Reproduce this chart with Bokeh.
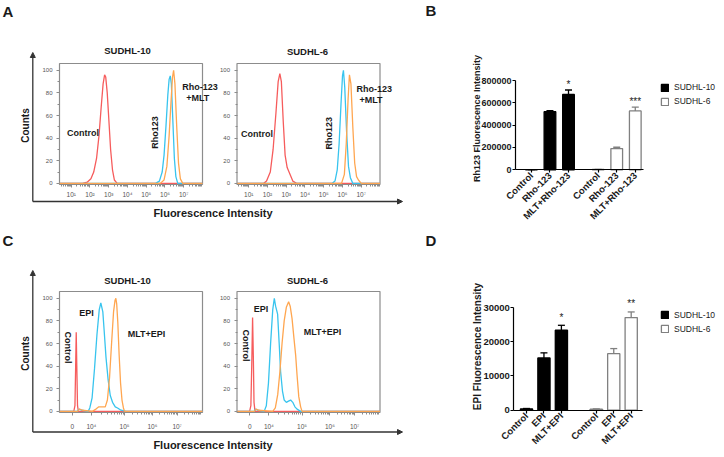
import numpy as np
from bokeh.plotting import figure
from bokeh.models import (Range1d, FixedTicker, LinearAxis, Arrow, NormalHead, Legend,
                          LegendItem, BasicTickFormatter)
from bokeh.core.properties import value
from bokeh.embed import file_html
from bokeh.resources import INLINE

FONT = "Liberation Sans"
INK = "#1a1a1a"
AXC = "#333333"
RED, BLUE, ORANGE = "#f65c5c", "#38c4ee", "#ffa650"
FRAME_GRAY = "#8c8c8c"
W, H = 720, 452

# ------------------------------------------------------------------ data
cell_lines = ["SUDHL-10", "SUDHL-6"]

# Panel A histograms: x = log10(fluorescence intensity), y = counts (% of max)
a_decades = [1, 2, 3, 4, 5, 6, 7]
a_decade_labels = ["10¹", "10²", "10³", "10⁴", "10⁵", "10⁶", "10⁷"]

a10_control_x = [0.375, 1.6, 1.85, 2.05, 2.2, 2.35, 2.48, 2.6, 2.7, 2.78, 2.84, 2.92, 3.0, 3.1, 3.2, 3.3, 3.45, 8.0]
a10_control_y = [0, 0, 1, 4, 10, 22, 42, 68, 88, 96, 94, 80, 58, 30, 12, 3, 0, 0]
a10_rho_x = [0.375, 5.5, 5.7, 5.85, 5.95, 6.05, 6.15, 6.22, 6.28, 6.34, 6.42, 6.5, 6.58, 6.68, 8.0]
a10_rho_y = [0, 0, 2, 10, 25, 50, 78, 92, 95, 88, 55, 22, 6, 0, 0]
a10_mlt_x = [0.375, 5.75, 5.95, 6.1, 6.22, 6.32, 6.4, 6.46, 6.53, 6.62, 6.72, 6.82, 6.95, 8.0]
a10_mlt_y = [0, 0, 3, 15, 42, 72, 94, 100, 88, 52, 18, 4, 0, 0]

a6_control_x = [0.375, 1.8, 1.95, 2.15, 2.3, 2.45, 2.57, 2.66, 2.74, 2.84, 2.94, 3.05, 3.2, 3.35, 3.55, 8.0]
a6_control_y = [0, 0, 2, 10, 30, 62, 90, 97, 90, 55, 25, 14, 8, 2, 0, 0]
a6_rho_x = [0.375, 5.45, 5.6, 5.72, 5.82, 5.92, 6.0, 6.05, 6.12, 6.22, 6.32, 6.42, 6.55, 8.0]
a6_rho_y = [0, 0, 2, 12, 35, 70, 95, 100, 85, 45, 15, 5, 0, 0]
a6_mlt_x = [0.375, 5.95, 6.1, 6.2, 6.3, 6.37, 6.45, 6.55, 6.65, 6.75, 6.85, 7.0, 8.0]
a6_mlt_y = [0, 0, 8, 35, 75, 96, 88, 50, 18, 6, 3, 0, 0]

# Panel C histograms: x = biexponential display position (0-1000), y = counts
c_tick_pos = [90, 223, 455, 650, 823]
c_tick_labels = ["0", "10⁴", "10⁵", "10⁶", "10⁷"]

c10_control_x = [0, 100, 108, 113, 117, 121, 126, 132, 1000]
c10_control_y = [0, 0, 5, 40, 70, 40, 5, 0, 0]
c10_epi_x = [0, 125, 138, 155, 200, 212, 228, 245, 262, 278, 289, 296, 303, 312, 325, 340, 355, 371, 390, 406, 430, 465, 1000]
c10_epi_y = [0, 0, 2, 1, 0, 3, 12, 38, 68, 90, 96, 92, 88, 72, 48, 28, 14, 8, 4, 3, 1, 0, 0]
c10_mlt_x = [0, 125, 140, 160, 230, 255, 275, 300, 320, 335, 350, 365, 378, 388, 394, 400, 408, 417, 427, 437, 447, 455, 1000]
c10_mlt_y = [0, 0, 2, 1, 0, 2, 4, 4, 4, 10, 30, 62, 88, 98, 100, 95, 78, 50, 25, 10, 3, 0, 0]

c6_control_x = [0, 88, 97, 103, 109, 114, 119, 126, 1000]
c6_control_y = [0, 0, 5, 40, 83, 50, 8, 0, 0]
c6_epi_x = [0, 120, 130, 145, 190, 205, 220, 235, 250, 261, 270, 284, 295, 305, 318, 330, 345, 360, 375, 390, 405, 420, 445, 1000]
c6_epi_y = [0, 0, 2, 1, 0, 5, 25, 60, 90, 100, 93, 86, 60, 35, 18, 10, 8, 9, 10, 8, 4, 2, 0, 0]
c6_mlt_x = [0, 120, 135, 150, 250, 268, 285, 300, 315, 330, 345, 361, 372, 385, 398, 410, 420, 432, 445, 455, 1000]
c6_mlt_y = [0, 0, 2, 1, 0, 3, 15, 35, 60, 80, 92, 97, 93, 82, 65, 50, 32, 13, 4, 0, 0]

# Panel B bars (Rh123 fluorescence intensity)
b_conditions = ["Control", "Rho-123", "MLT+Rho-123"]
b_sudhl10 = [1500, 520000, 675000]
b_sudhl10_err = [500, 10000, 40000]
b_sudhl6 = [3500, 190000, 527000]
b_sudhl6_err = [1000, 12000, 35000]
b_sig_sudhl10 = ["", "", "*"]
b_sig_sudhl6 = ["", "", "***"]
b_ticks = [0, 200000, 400000, 600000, 800000]

# Panel D bars (EPI fluorescence intensity)
d_conditions = ["Control", "EPI", "MLT+EPI"]
d_sudhl10 = [380, 15250, 23350]
d_sudhl10_err = [120, 1500, 1450]
d_sudhl6 = [280, 16500, 27050]
d_sudhl6_err = [100, 1500, 1650]
d_sig_sudhl10 = ["", "", "*"]
d_sig_sudhl6 = ["", "", "**"]
d_ticks = [0, 10000, 20000, 30000]


# ------------------------------------------------------------------ layout helpers
def Y(y_px):
    return H - y_px


def x_range_for(px0, px1, d0, d1):
    s = (px1 - px0) / (d1 - d0)
    return Range1d(d0 - px0 / s, d0 + (W - px0) / s)


def y_range_for(py_top, py_bottom, c_bottom, c_top):
    t = (py_bottom - py_top) / (c_top - c_bottom)
    return Range1d(c_bottom - (H - py_bottom) / t, c_top + py_top / t)


SLOT = 5  # x units per bar slot in the bar panels

# geometry of the sub-plots, in page pixels
HIST_Y = (-1, 106)
boxes = {
    "a1": (59, 202, 63, 184), "a2": (236.5, 379.5, 63, 184),
    "c1": (59, 202, 291, 412), "c2": (236.5, 379.5, 291, 412),
}
hist_x_domain = {"a1": (0.375, 8.0), "a2": (0.375, 8.0), "c1": (0, 1000), "c2": (0, 1000)}
# bar panels: first bar centre px, slot px, group gap (units), zero-line px, px per value, axis extent px
bar_geo = {
    "b": dict(x0=530.9, slot=18.55, gap=3, y0=169.3, k=89.3 / 800000, ax0=515, ax1=643),
    "d": dict(x0=526.0, slot=17.45, gap=5, y0=409.7, k=102.7 / 30000, ax0=513.3, ax1=642),
}

xr, yr = {}, {}
for name, (bx0, bx1, by0, by1) in boxes.items():
    d0, d1 = hist_x_domain[name]
    xr[name + "x"] = x_range_for(bx0, bx1, d0, d1)
    yr[name + "y"] = y_range_for(by0, by1, HIST_Y[0], HIST_Y[1])
for name, g in bar_geo.items():
    unit = g["slot"] / SLOT
    xr[name + "x"] = Range1d((0 - g["x0"]) / unit, (W - g["x0"]) / unit)
    yr[name + "y"] = Range1d((g["y0"] - H) / g["k"], g["y0"] / g["k"])

p = figure(width=W, height=H, x_range=(0, W), y_range=(0, H), output_backend="svg",
           toolbar_location=None, min_border=0, x_axis_location=None, y_axis_location=None)
p.title.visible = False
p.grid.visible = False
p.outline_line_color = None
p.background_fill_color = "white"
p.border_fill_color = "white"
p.extra_x_ranges = xr
p.extra_y_ranges = yr


def txt(x, y, s, size="9px", angle=0.0, align="center", style="bold", color=INK):
    p.text(x=[x], y=[Y(y)], text=[s], angle=angle, text_font=value(FONT),
           text_font_size=value(size), text_font_style=style, text_align=align,
           text_baseline="middle", text_color=color)


def arrow(x0, y0, x1, y1):
    p.add_layout(Arrow(end=NormalHead(size=5, fill_color=AXC, line_color=AXC, line_width=1),
                       x_start=x0, y_start=Y(y0), x_end=x1, y_end=Y(y1),
                       line_color=AXC, line_width=1.3))


def histogram(name, curves, ticks, labels, minor, x_standoff):
    xn, yn = name + "x", name + "y"
    d0, d1 = hist_x_domain[name]
    p.quad(left=[d0], right=[d1], bottom=[HIST_Y[0]], top=[HIST_Y[1]], fill_color=None,
           line_color=FRAME_GRAY, line_width=1.2, x_range_name=xn, y_range_name=yn)
    for xs, ys, col in curves:
        p.line(xs, ys, line_color=col, line_width=1.3, x_range_name=xn, y_range_name=yn)
    xa = LinearAxis(x_range_name=xn, y_range_name=yn, fixed_location=HIST_Y[0], bounds=(d0, d1),
                    ticker=FixedTicker(ticks=ticks, minor_ticks=minor),
                    major_label_overrides={t: s for t, s in zip(ticks, labels)})
    ya = LinearAxis(x_range_name=xn, y_range_name=yn, fixed_location=d0, bounds=HIST_Y,
                    ticker=FixedTicker(ticks=[0, 20, 40, 60, 80, 100], minor_ticks=[10, 30, 50, 70, 90]))
    for ax, standoff, size in ((xa, x_standoff, "6.5px"), (ya, 4, "6px")):
        ax.axis_line_color = None
        ax.major_tick_line_color = FRAME_GRAY
        ax.minor_tick_line_color = FRAME_GRAY
        ax.major_tick_out = 3
        ax.major_tick_in = 0
        ax.minor_tick_out = 2
        ax.minor_tick_in = 0
        ax.major_label_text_font = FONT
        ax.major_label_text_font_size = size
        ax.major_label_text_color = "#555555"
        ax.major_label_standoff = standoff
    p.add_layout(xa, "below")
    p.add_layout(ya, "left")


def bar_panel(name, conditions, v10, e10, v6, e6, s10, s6, ticks, xtick_size, ytick_size,
              bar_w, star_off, legend_top):
    g = bar_geo[name]
    xn, yn = name + "x", name + "y"
    unit = g["slot"] / SLOT
    pos_all, lab_all, rends = [], [], []
    for gi, (vals, errs, sig, fill, edge) in enumerate(((v10, e10, s10, "black", "black"),
                                                        (v6, e6, s6, "white", "#808080"))):
        pos = [gi * (3 * SLOT + g["gap"]) + ci * SLOT for ci in range(len(conditions))]
        upper = [v + e for v, e in zip(vals, errs)]
        pos_all += pos
        lab_all += conditions
        r = p.vbar(x=pos, top=vals, bottom=0, width=bar_w * SLOT, fill_color=fill, line_color=edge,
                   line_width=1.3, x_range_name=xn, y_range_name=yn)
        p.segment(x0=pos, y0=vals, x1=pos, y1=upper, line_color=edge, line_width=1.3,
                  x_range_name=xn, y_range_name=yn)
        p.scatter(x=pos, y=upper, marker="dash", size=7, line_color=edge, line_width=1.3,
                  x_range_name=xn, y_range_name=yn)
        sx = [x for x, s in zip(pos, sig) if s]
        sy = [u for u, s in zip(upper, sig) if s]
        st = [s for s in sig if s]
        p.text(x=sx, y=sy, text=st, y_offset=star_off, text_font=value(FONT),
               text_font_size=value("10px"), text_align="center", text_baseline="middle",
               text_color=INK, x_range_name=xn, y_range_name=yn)
        rends.append(r)
    b0 = (g["ax0"] - g["x0"]) / unit
    b1 = (g["ax1"] - g["x0"]) / unit
    xa = LinearAxis(x_range_name=xn, y_range_name=yn, fixed_location=0, bounds=(b0, b1),
                    ticker=FixedTicker(ticks=pos_all, minor_ticks=[]),
                    major_label_overrides={t: s for t, s in zip(pos_all, lab_all)})
    ya = LinearAxis(x_range_name=xn, y_range_name=yn, fixed_location=b0, bounds=(0, ticks[-1]),
                    ticker=FixedTicker(ticks=ticks, minor_ticks=[]),
                    formatter=BasicTickFormatter(use_scientific=False))
    for ax, size in ((xa, xtick_size), (ya, ytick_size)):
        ax.axis_line_color = "black"
        ax.axis_line_width = 1.2
        ax.major_tick_line_color = "black"
        ax.major_tick_line_width = 1.2
        ax.major_tick_out = 3
        ax.major_tick_in = 0
        ax.minor_tick_line_color = None
        ax.major_label_text_font = FONT
        ax.major_label_text_font_style = "bold"
        ax.major_label_text_font_size = size
        ax.major_label_text_color = INK
        ax.major_label_standoff = 1
    xa.major_label_orientation = np.pi / 4
    p.add_layout(xa, "below")
    p.add_layout(ya, "left")
    leg_h = 23
    legend = Legend(items=[LegendItem(label=cell_lines[0], renderers=[rends[0]]),
                           LegendItem(label=cell_lines[1], renderers=[rends[1]])],
                    location=(660, Y(legend_top + leg_h)), glyph_width=9, glyph_height=9,
                    label_height=9, label_standoff=5, spacing=4, padding=0, margin=0,
                    border_line_color=None, background_fill_alpha=0,
                    label_text_font=FONT, label_text_font_size="8.5px", label_text_color=INK)
    p.add_layout(legend)


a_minor = [d + np.log10(m) for d in range(0, 8) for m in range(2, 10) if 0.375 < d + np.log10(m) < 8.0]
c_minor = []
_dec = c_tick_pos[1:] + [996]
for i in range(len(_dec) - 1):
    for m in range(2, 10):
        c_minor.append(_dec[i] + np.log10(m) * (_dec[i + 1] - _dec[i]))

# ------------------------------------------------------------------ panel A
histogram("a1", [(a10_control_x, a10_control_y, RED), (a10_rho_x, a10_rho_y, BLUE),
                 (a10_mlt_x, a10_mlt_y, ORANGE)], a_decades, a_decade_labels, a_minor, 3)
histogram("a2", [(a6_control_x, a6_control_y, RED), (a6_rho_x, a6_rho_y, BLUE),
                 (a6_mlt_x, a6_mlt_y, ORANGE)], a_decades, a_decade_labels, a_minor, 3)
txt(2, 10.5, "A", size="15px", align="left")
txt(127, 50, "SUDHL-10", size="9.5px")
txt(307, 51, "SUDHL-6", size="9.5px")
txt(82.5, 132, "Control")
txt(154, 132, "Rho123", angle=np.pi / 2)
txt(181.7, 86, "Rho-123", align="left")
txt(185.7, 97, "+MLT", align="left")
txt(256.5, 133, "Control")
txt(328, 132.7, "Rho123", angle=np.pi / 2)
txt(356, 88, "Rho-123", align="left")
txt(359, 99, "+MLT", align="left")
txt(25, 125, "Counts", size="10px", angle=np.pi / 2)
txt(212.5, 212, "Fluorescence Intensity", size="11px")
arrow(32.3, 201, 32.3, 52)
arrow(32.3, 201, 402, 201)

# ------------------------------------------------------------------ panel C
histogram("c1", [(c10_control_x, c10_control_y, RED), (c10_epi_x, c10_epi_y, BLUE),
                 (c10_mlt_x, c10_mlt_y, ORANGE)], c_tick_pos, c_tick_labels, c_minor, 7)
histogram("c2", [(c6_control_x, c6_control_y, RED), (c6_epi_x, c6_epi_y, BLUE),
                 (c6_mlt_x, c6_mlt_y, ORANGE)], c_tick_pos, c_tick_labels, c_minor, 7)
txt(2, 239.5, "C", size="15px", align="left")
txt(127, 280, "SUDHL-10", size="9.5px")
txt(307, 280, "SUDHL-6", size="9.5px")
txt(86, 312, "EPI")
txt(67, 347, "Control", angle=-np.pi / 2)
txt(146, 333, "MLT+EPI")
txt(260.5, 308, "EPI")
txt(245.7, 345, "Control", angle=-np.pi / 2)
txt(322, 331, "MLT+EPI")
txt(25, 353, "Counts", size="10px", angle=np.pi / 2)
txt(212.5, 444, "Fluorescence Intensity", size="11px")
arrow(32.3, 431.5, 32.3, 270)
arrow(32.3, 431.5, 402, 431.5)

# ------------------------------------------------------------------ panels B and D
bar_panel("b", b_conditions, b_sudhl10, b_sudhl10_err, b_sudhl6, b_sudhl6_err,
          b_sig_sudhl10, b_sig_sudhl6, b_ticks, "9.5px", "9px", 0.63, -5.5, 83)
txt(425, 10, "B", size="15px", align="left")
txt(476.7, 118, "Rh123 Fluorescence Intensity", size="9px", angle=np.pi / 2)

bar_panel("d", d_conditions, d_sudhl10, d_sudhl10_err, d_sudhl6, d_sudhl6_err,
          d_sig_sudhl10, d_sig_sudhl6, d_ticks, "9.5px", "9.5px", 0.7, -8, 310.5)
txt(425, 239.5, "D", size="15px", align="left")
txt(476.7, 346, "EPI Fluorescence Intensity", size="10px", angle=np.pi / 2)

open("out.html", "w").write(file_html(p, INLINE))
